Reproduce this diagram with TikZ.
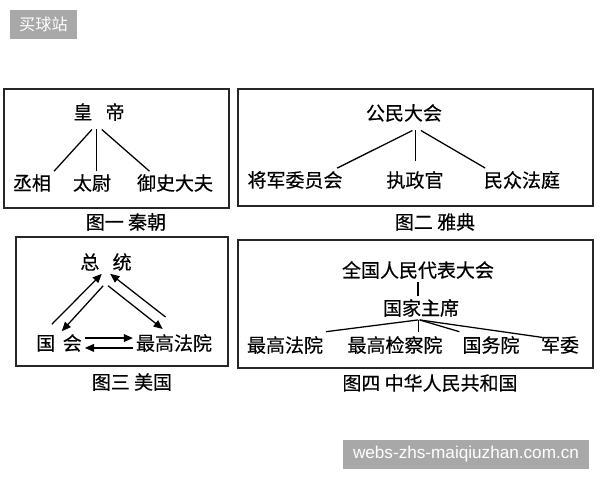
\documentclass[tikz,border=0pt]{standalone}
\usepackage{fontspec}
\setmainfont{Liberation Sans}
\newfontfamily\cjk[FakeBold=0.4]{Noto Sans CJK SC}
\newfontfamily\cjkplain{Noto Sans CJK SC}
\usetikzlibrary{arrows.meta}

\begin{document}
\begin{tikzpicture}[x=0.025cm, y=-0.025cm,
    frame/.style = {draw=black!85, line width=1.2pt},
    txt/.style = {font=\cjk\fontsize{13.5}{16}\selectfont, inner sep=2pt},
    root/.style = {txt, inner ysep=6pt},
    link/.style = {line width=0.9pt},
    arr/.style = {line width=0.9pt, -{Triangle[length=6.5pt,width=5.5pt]}},
    wmark/.style = {fill=black!34, text=white, inner sep=0pt}]
    \useasboundingbox (0,0) rectangle (600,480);

    % watermarks
    \node[wmark, minimum width=1.675cm, minimum height=0.725cm,
          font=\cjkplain\fontsize{11.5}{14}\selectfont] (tag) at (43.5,24.5) {买球站};
    \node[wmark, minimum width=6.15cm, minimum height=0.725cm,
          font=\fontsize{12.2}{14}\selectfont] (url) at (466,454.5) {webs-zhs-maiqiuzhan.com.cn};

    % frames
    \draw[frame] (4,89) rectangle (229,208);
    \draw[frame] (238,89) rectangle (593,206);
    \draw[frame] (16,237) rectangle (228,366);
    \draw[frame] (238,240) rectangle (593,368);

    % Qin
    \node[root] (emperor) at (99,112) {皇\hspace{0.7em}帝};
    \node[txt] (chancellor) at (32,183) {丞相};
    \node[txt] (marshal) at (92,183) {太尉};
    \node[txt] (censor) at (175,183) {御史大夫};
    \node[txt] (qin) at (126,222) {图一 秦朝};

    \draw[link] ([xshift=-5pt]emperor.south) -- (chancellor.north east);
    \draw[link] ([xshift=-2pt]emperor.south) -- ([xshift=-2pt]emperor.south |- marshal.north);
    \draw[link] ([xshift=2pt]emperor.south) -- ([xshift=11pt]censor.north west);

    % Athens
    \node[root] (assembly) at (404,113) {公民大会};
    \node[txt] (generals) at (295,180) {将军委员会};
    \node[txt] (archon) at (415,180) {执政官};
    \node[txt] (jury) at (522,180) {民众法庭};
    \node[txt] (athens) at (435,222) {图二 雅典};

    \draw[link] ([xshift=6pt]assembly.south) -- ([xshift=-6pt]generals.north east);
    \draw[link] ([xshift=8pt]assembly.south) -- ([xshift=8pt,yshift=5pt]assembly.south |- archon.north);
    \draw[link] ([xshift=12pt]assembly.south) -- ([xshift=3pt]jury.north west);

    % USA
    \node[txt] (president) at (106,262) {总\hspace{0.7em}统};
    \node[txt] (congress) at (59,343) {国\hspace{0.4em}会};
    \node[txt] (court) at (174,343) {最高法院};
    \node[txt] (usa) at (132,382) {图三 美国};

    \draw[arr] ([xshift=-5pt,yshift=5pt]congress.north) -- ([xshift=-3pt]president.south);
    \draw[arr] ([xshift=-2pt,yshift=-8.5pt]president.south) -- ([xshift=2pt]congress.north);
    \draw[arr] ([xshift=1.5pt,yshift=-8.5pt]president.south) -- ([xshift=-8pt,yshift=1.5pt]court.north);
    \draw[arr] ([xshift=-6pt,yshift=10pt]court.north) -- ([xshift=3pt]president.south);
    \draw[arr] ([yshift=3.5pt]congress.east) -- ([yshift=3.5pt]court.west);
    \draw[arr] ([yshift=-3.5pt]court.west) -- ([yshift=-3.5pt]congress.east);

    % PRC
    \node[txt] (npc) at (418,270) {全国人民代表大会};
    \node[txt] (chairman) at (421,308) {国家主席};
    \node[txt] (spc) at (285,345) {最高法院};
    \node[txt] (spp) at (395,345) {最高检察院};
    \node[txt] (council) at (491,345) {国务院};
    \node[txt] (cmc) at (560,345) {军委};
    \node[txt] (prc) at (430,383) {图四 中华人民共和国};

    \draw[link] (npc.south) -- (npc.south |- chairman.north);
    \draw[link] ([xshift=-2pt]chairman.south) -- ([yshift=1pt]spc.north east);
    \draw[link] ([xshift=-2pt]chairman.south) -- ([xshift=-2pt,yshift=1pt]chairman.south |- spp.north);
    \draw[link] ([xshift=-1pt]chairman.south) -- ([yshift=1pt]council.north west);
    \draw[link] ([xshift=-1pt]chairman.south) -- ([xshift=3pt,yshift=-3pt]cmc.north west);
\end{tikzpicture}
\end{document}
